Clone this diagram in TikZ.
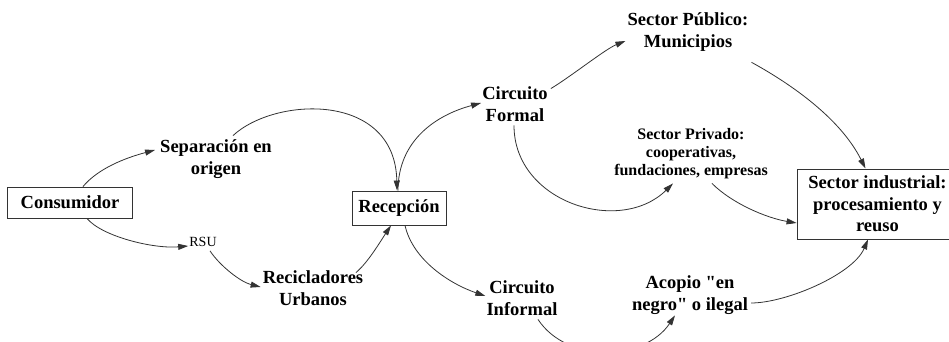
\documentclass[tikz,border=0pt]{standalone}
\usepackage{fontspec}
\setmainfont{Liberation Serif}[Ligatures=TeXOff]
\usetikzlibrary{arrows.meta}
\tikzset{
  lbl/.style={font=\fontsize{18.5}{21.5}\selectfont\bfseries, align=center, inner sep=0pt},
  small/.style={font=\fontsize{16}{18}\selectfont\bfseries, align=center, inner sep=0pt},
  tiny/.style={font=\fontsize{14}{16}\selectfont, inner sep=0pt},
  box/.style={lbl, draw=black!80, line width=0.9pt, fill=white},
  flow/.style={draw=black!80, line width=0.8pt, -{Triangle[length=10pt,width=6pt]}},
}
\begin{document}
\begin{tikzpicture}[x=1pt,y=1pt]
\useasboundingbox (0,0) rectangle (949,342);
% nodes
\node[box, minimum width=125pt, minimum height=31pt] (cons) at (70,139.5) {Consumidor};
\node[lbl] (sep) at (216,183) {Separación en\\origen};
\node[tiny] (rsu) at (203,100) {RSU};
\node[lbl] (recurb) at (313,54) {Recicladores\\Urbanos};
\node[box, minimum width=94pt, minimum height=34pt] (recep) at (399,134) {Recepción};
\node[lbl] (cform) at (515,238) {Circuito\\Formal};
\node[lbl] (spub) at (688,310) {Sector Público:\\Municipios};
\node[small] (spriv) at (691,188) {Sector Privado:\\cooperativas,\\fundaciones, empresas};
\node[box, minimum width=161pt, minimum height=70pt] (sind) at (877.5,138) {Sector industrial:\\procesamiento y\\reuso};
\node[lbl] (cinf) at (522,44) {Circuito\\Informal};
\node[lbl] (acopio) at (690,47) {Acopio "en\\negro" o ilegal};
% connectors
\draw[flow] ([xshift=13pt]cons.north) .. controls +(15,18) and +(-30,-8) .. ([xshift=-5pt,yshift=9pt]sep.west);
\draw[flow] ([xshift=17pt]cons.south) .. controls +(15,-18) and +(-35,-3) .. ([xshift=-1pt,yshift=-4pt]rsu.west);
\draw[flow] ([xshift=7pt,yshift=-4pt]rsu.south) .. controls +(10,-15) and +(-20,5) .. ([xshift=-2pt,yshift=1pt]recurb.west);
\draw[flow] ([xshift=43pt,yshift=-2pt]recurb.north) .. controls +(12,10) and +(-10,-15) .. ([xshift=-8pt]recep.south);
\draw[flow] ([xshift=17pt,yshift=4pt]sep.north) .. controls +(42,39) and +(-2,99) .. ([xshift=-2pt]recep.north);
\draw[flow] ([xshift=-1pt]recep.north) .. controls +(0,50) and +(-45,-12) .. ([xshift=-1pt,yshift=1pt]cform.west);
\draw[flow] ([xshift=6pt]recep.south) .. controls +(8,-35) and +(-35,12) .. ([xshift=-1pt,yshift=2pt]cinf.west);
\draw[flow] ([xshift=3pt,yshift=-2pt]cform.north east) .. controls +(20,12) and +(-20,-8) .. ([xshift=-2pt,yshift=-9pt]spub.west);
\draw[flow] ([xshift=3pt,yshift=-11pt]spub.south east) .. controls +(40,-22) and +(-25,50) .. ([xshift=-12pt]sind.north);
\draw[flow] ([xshift=-1pt,yshift=-4pt]cform.south) .. controls +(0,-77) and +(-53,-52) .. ([xshift=-18pt,yshift=-4pt]spriv.south);
\draw[flow] ([xshift=21pt,yshift=-4pt]spriv.south) .. controls +(20,-20) and +(-30,5) .. ([yshift=-19pt]sind.west);
\draw[flow] ([xshift=16pt,yshift=-4pt]cinf.south) .. controls +(30,-45) and +(-30,-45) .. ([xshift=-15pt,yshift=-1pt]acopio.south);
\draw[flow] ([xshift=3pt,yshift=-8pt]acopio.east) .. controls +(35,0) and +(-15,-35) .. ([xshift=-9.5pt]sind.south);
\end{tikzpicture}
\end{document}
